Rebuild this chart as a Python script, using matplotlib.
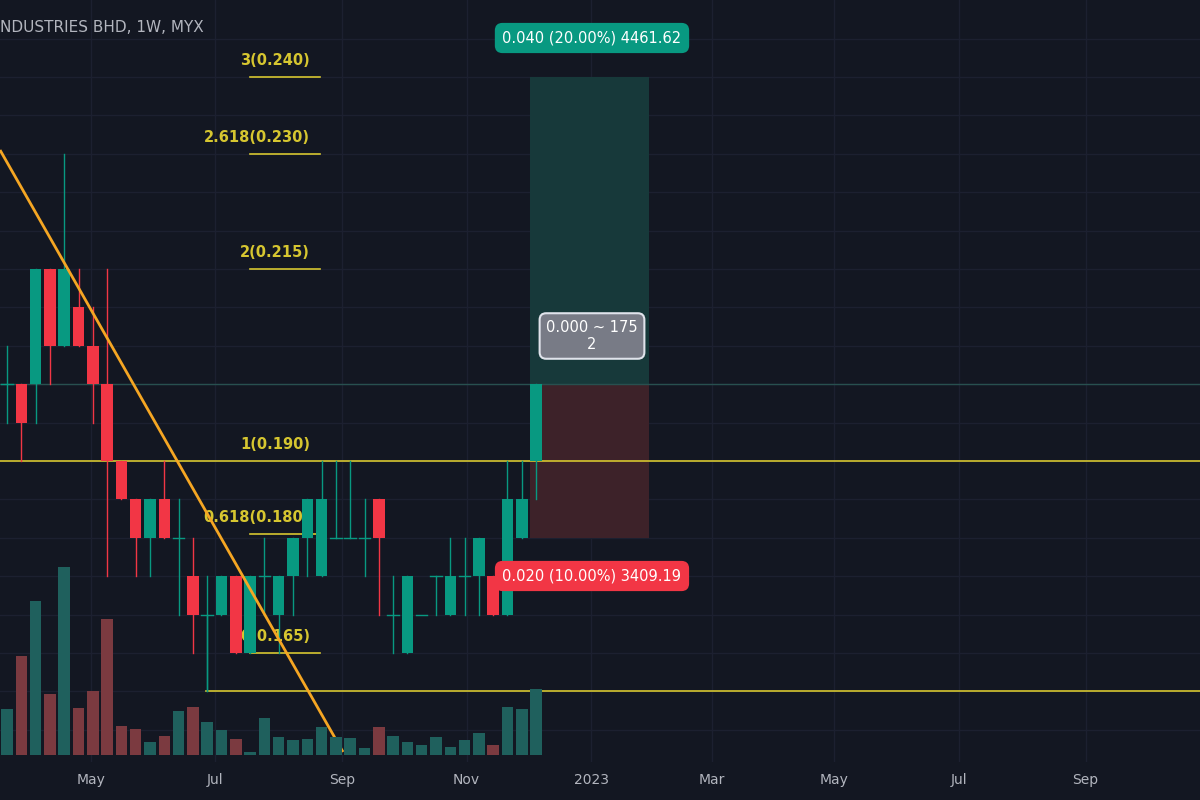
import matplotlib
matplotlib.use("Agg")
import matplotlib.pyplot as plt
from matplotlib.patches import Rectangle, FancyBboxPatch
import numpy as np

# weekly candles (index 0 = week of 2022-03-21)
opens  = [0.200,0.200,0.200,0.215,0.205,0.210,0.205,0.200,0.190,0.185,0.180,0.185,0.180,0.175,0.170,0.170,0.175,0.165,0.175,
          0.170,0.175,0.180,0.175,0.180,0.180,0.180,0.185,0.170,0.165,0.170,0.175,0.170,0.175,0.175,0.175,0.170,0.180,0.190]
closes = [0.200,0.195,0.215,0.205,0.215,0.205,0.200,0.190,0.185,0.180,0.185,0.180,0.180,0.170,0.170,0.175,0.165,0.175,0.175,
          0.175,0.180,0.185,0.185,0.180,0.180,0.180,0.180,0.170,0.175,0.170,0.175,0.175,0.175,0.180,0.170,0.185,0.185,0.200]
highs  = [0.205,0.200,0.215,0.215,0.230,0.215,0.210,0.215,0.190,0.185,0.185,0.190,0.185,0.180,0.175,0.175,0.175,0.175,0.180,
          0.175,0.180,0.185,0.190,0.190,0.190,0.185,0.185,0.175,0.175,0.170,0.175,0.180,0.180,0.180,0.175,0.190,0.190,0.200]
lows   = [0.195,0.190,0.195,0.200,0.205,0.205,0.195,0.175,0.185,0.175,0.175,0.180,0.170,0.165,0.160,0.170,0.165,0.165,0.170,
          0.165,0.170,0.175,0.175,0.180,0.180,0.175,0.170,0.165,0.165,0.170,0.170,0.170,0.170,0.170,0.170,0.170,0.180,0.185]
volumes = [46,99,154,61,188,47,64,136,29,26,13,19,44,48,33,25,16,3,37,
           18,15,16,28,18,17,7,28,19,13,10,18,8,15,22,10,48,46,66]

month_labels = ["May","Jul","Sep","Nov","2023","Mar","May","Jul","Sep"]
month_pos = [5.86,14.57,23.43,32.14,40.86,49.29,57.86,66.57,75.43]

fib_levels = [0.240,0.230,0.215,0.190,0.1805,0.165]
fib_names = ["3(0.240)","2.618(0.230)","2(0.215)","1(0.190)","0.618(0.180)","0(0.165)"]
entry, target, stop = 0.200, 0.240, 0.180
support = 0.160

BG = "#131722"; GREEN = "#089981"; RED = "#f23645"; YEL = "#d6c630"
W, H = 1200, 800
fig = plt.figure(figsize=(12, 8), dpi=100, facecolor=BG)

def px2x(px): return (px - 7) / 14.3
ax = fig.add_axes([0, 38/800, 1, 762/800])
ax.set_facecolor(BG)
ax.set_xlim(px2x(0), px2x(1200))
ax.set_ylim(0.190 - (762-461)/7680, 0.190 + 461/7680)
for s in ax.spines.values(): s.set_visible(False)
ax.set_yticks([])
ax.set_xticks(month_pos)
ax.set_xticklabels(month_labels, color="#b2b5be", fontsize=10)
ax.tick_params(axis="x", length=0, pad=8)
for p in month_pos: ax.axvline(p, color="#1c2030", lw=1, zorder=0)
for lv in np.arange(0.155, 0.250, 0.005): ax.axhline(lv, color="#1c2030", lw=1, zorder=0)

# volume axes
vax = fig.add_axes([0, 45/800, 1, 240/800], sharex=ax)
vax.set_ylim(0, 240); vax.axis("off"); vax.patch.set_visible(False)
for i, v in enumerate(volumes):
    c = "#7b3a40" if closes[i] < opens[i] else "#1f605d"
    vax.bar(i, v, width=0.8, color=c, zorder=1)

# position tool
x0, x1 = 36.6, 44.9
ax.add_patch(Rectangle((x0, entry), x1-x0, target-entry, color="#17393a", zorder=1, lw=0))
ax.add_patch(Rectangle((x0, stop), x1-x0, entry-stop, color="#3d2229", zorder=1, lw=0))
ax.axhline(entry, color="#28504f", lw=1, zorder=1)

# fib
for lv, nm in zip(fib_levels, fib_names):
    if lv == 0.190:
        ax.axhline(lv, color=YEL, lw=1.2, zorder=2)
    else:
        ax.plot([px2x(250), px2x(320)], [lv, lv], color=YEL, lw=1.2, zorder=2)
    ax.text(px2x(310), lv + 0.0012, nm, color=YEL, fontsize=10.5, ha="right", va="bottom",
            fontweight="bold", zorder=2)
ax.plot([14 - 0.05, px2x(1200)], [support, support], color=YEL, lw=1.2, zorder=2)
ax.plot([14, 14], [support, 0.170], color=GREEN, lw=1, zorder=3)

# candles
for i in range(len(opens)):
    o, c, h, l = opens[i], closes[i], highs[i], lows[i]
    col = RED if c < o else GREEN
    ax.plot([i, i], [l, h], color=col, lw=1, zorder=4)
    if abs(c - o) < 1e-9:
        ax.plot([i-0.4, i+0.4], [o, o], color=col, lw=1, zorder=4)
    else:
        ax.add_patch(Rectangle((i-0.4, min(o, c)), 0.8, abs(c-o), color=col, zorder=4, lw=0))

# trend line
ax.plot([px2x(0), px2x(343)], [0.190+(461-150)/7680, 0.190+(461-752)/7680], color="#f5a623",
        lw=2, zorder=5, solid_capstyle="butt")

# labels
def box(xc, y, txt, fc, ec=None, tc="white"):
    ax.text(xc, y, txt, color=tc, fontsize=10.5, ha="center", va="center", zorder=7,
            linespacing=1.2,
            bbox=dict(boxstyle="round,pad=0.45", fc=fc, ec=ec if ec else fc, lw=1.5))
xc = px2x(592)
box(xc, 0.190+(461-38)/7680, "0.040 (20.00%) 4461.62", "#089981")
box(xc, 0.190+(461-576)/7680, "0.020 (10.00%) 3409.19", "#f23645")
box(xc, 0.190+(461-336)/7680, "0.000 ~ 175\n2", "#787b86", ec="#e0e3eb")

fig.text(0.0, 1-28/800, "NDUSTRIES BHD, 1W, MYX", color="#b2b5be", fontsize=11, va="center", ha="left")
fig.savefig("out.png", dpi=100, facecolor=BG)
